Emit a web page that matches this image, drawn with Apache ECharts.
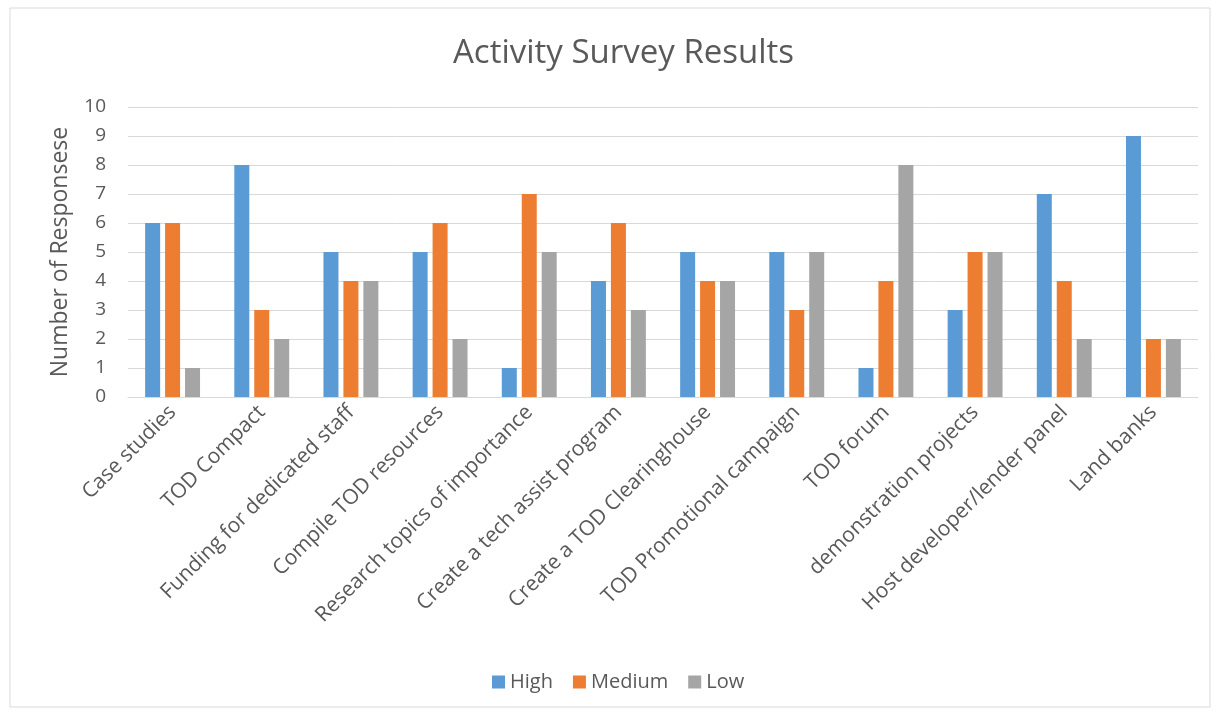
<!DOCTYPE html>
<html>
<head>
<meta charset="utf-8">
<script src="https://cdn.jsdelivr.net/npm/echarts@6/dist/echarts.min.js"></script>
<style>html,body{margin:0;padding:0;background:#fff;}#c{width:1218px;height:715px;}</style>
</head>
<body>
<div id="c"></div>
<script>
const categories = ["Case studies","TOD Compact","Funding for dedicated staff","Compile TOD resources","Research topics of importance","Create a tech assist program","Create a TOD Clearinghouse","TOD Promotional campaign","TOD forum","demonstration projects","Host developer/lender panel","Land banks"];
const high = [6,8,5,5,1,4,5,5,1,3,7,9];
const medium = [6,3,4,6,7,6,4,3,4,5,4,2];
const low = [1,2,4,2,5,3,4,5,8,5,2,2];
const yTicks = [0,1,2,3,4,5,6,7,8,9,10];

const font = '"Open Sans", "Noto Sans", sans-serif';
const chart = echarts.init(document.getElementById('c'));
chart.setOption({
  animation: false,
  backgroundColor: '#fff',
  graphic: [{type:'rect', shape:{x:10,y:8,width:1200,height:699}, style:{fill:'none', stroke:'#d9d9d9', lineWidth:1}, silent:true}],
  title: {text:'Activity Survey Results', left:448, top:32, textStyle:{fontFamily:font, fontSize:33, fontWeight:'normal', color:'#595959'}},
  legend: {bottom:18, left:487, itemWidth:13, itemHeight:13, itemGap:20, icon:'rect', textStyle:{fontFamily:font, fontSize:20, color:'#595959'}},
  grid: {left:128, right:20, top:107, bottom:318},
  xAxis: {type:'category', data:categories, axisTick:{show:false}, axisLine:{lineStyle:{color:'#d9d9d9'}},
    axisLabel:{rotate:45, interval:0, margin:12, fontFamily:font, fontSize:21, color:'#595959'}},
  yAxis: {type:'value', min:yTicks[0], max:yTicks[yTicks.length-1], interval:1, name:'Number of Responsese', nameLocation:'middle', nameGap:56,
    nameTextStyle:{fontFamily:font, fontSize:23, color:'#595959'},
    axisLine:{show:false}, axisTick:{show:false}, splitLine:{lineStyle:{color:'#d9d9d9'}},
    axisLabel:{margin:22, fontFamily:font, fontSize:19, color:'#595959'}},
  series: [
    {name:'High', type:'bar', data:high, itemStyle:{color:'#5B9BD5'}, barWidth:15, barGap:'33%'},
    {name:'Medium', type:'bar', data:medium, itemStyle:{color:'#ED7D31'}, barWidth:15, barGap:'33%'},
    {name:'Low', type:'bar', data:low, itemStyle:{color:'#A5A5A5'}, barWidth:15, barGap:'33%'}
  ]
});
</script>
</body>
</html>
